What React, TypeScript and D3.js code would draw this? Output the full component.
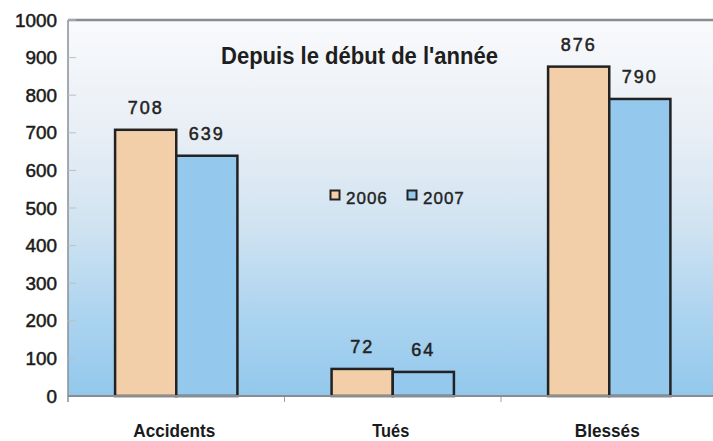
import React from "react";
import * as d3 from "d3";

const categories = ["Accidents", "Tués", "Blessés"];
const categoryLabelWidths = [82, 37, 65];
const seriesNames = ["2006", "2007"];
const values2006 = [708, 72, 876];
const values2007 = [639, 64, 790];
const yTicks = [0, 100, 200, 300, 400, 500, 600, 700, 800, 900, 1000];
const title = "Depuis le début de l'année";

const W = 713;
const H = 441;
const left = 68;
const top = 20;
const bottom = 396;
const right = 717.5;

const colors = ["#f2cea9", "#94c9ed"];
const FONT = "'Liberation Sans Narrow', 'Liberation Sans', Arial, sans-serif";

export default function App() {
  const x = d3.scaleBand<string>().domain(categories).range([left, right]).padding(0);
  const y = d3.scaleLinear().domain([0, 1000]).range([bottom, top]);
  const bw = x.bandwidth();
  const inner = d3
    .scaleBand<string>()
    .domain(seriesNames)
    .range([bw * 0.2175, bw * 0.7825])
    .padding(0);
  const series = [values2006, values2007];

  return (
    <svg
      width={W}
      height={H}
      style={{ position: "absolute", left: 0, top: 0, background: "#fff" }}
    >
      <defs>
        <linearGradient id="bg" x1="0" y1="0" x2="0" y2="1">
          <stop offset="0" stopColor="#f9fafc" />
          <stop offset="0.3" stopColor="#e8eef5" />
          <stop offset="0.55" stopColor="#d0e3f1" />
          <stop offset="0.78" stopColor="#add4f0" />
          <stop offset="1" stopColor="#92c8ec" />
        </linearGradient>
      </defs>
      <rect x={left} y={top} width={W - left} height={bottom - top} fill="url(#bg)" />
      <line x1={left} x2={W} y1={top} y2={top} stroke="#878d93" strokeWidth={2.5} />
      <line x1={left} x2={left} y1={top} y2={bottom + 6} stroke="#8a8f95" strokeWidth={1.5} />
      {yTicks.map((t) => (
        <g key={t}>
          <line x1={left} x2={left + 8} y1={y(t)} y2={y(t)} stroke="#b9bfc6" strokeWidth={1} />
          <text
            x={57}
            y={y(t) + 6.5}
            textAnchor="end"
            fontFamily={FONT}
            fontSize={18.5}
            fill="#1a1a1a"
            stroke="#1a1a1a"
            strokeWidth={0.5}
            textLength={String(t).length * 10.5}
            lengthAdjust="spacingAndGlyphs"
          >
            {t}
          </text>
        </g>
      ))}
      {categories.map((c) => (
        <line
          key={"ct" + c}
          x1={(x(c) as number) + bw}
          x2={(x(c) as number) + bw}
          y1={bottom}
          y2={bottom + 6}
          stroke="#9aa0a6"
          strokeWidth={1}
        />
      ))}
      {categories.map((c, i) =>
        seriesNames.map((s, j) => {
          const v = series[j][i];
          const bx = (x(c) as number) + (inner(s) as number);
          return (
            <g key={c + s}>
              <rect
                x={bx}
                y={y(v)}
                width={inner.bandwidth()}
                height={bottom - y(v)}
                fill={colors[j]}
                stroke="#222"
                strokeWidth={2.5}
              />
              <text
                x={bx + inner.bandwidth() / 2}
                y={y(v) - 16}
                textAnchor="middle"
                fontFamily="'Liberation Sans', Arial, sans-serif"
                fontSize={18}
                letterSpacing={2}
                fill="#222"
                stroke="#222"
                strokeWidth={0.5}
              >
                {v}
              </text>
            </g>
          );
        })
      )}
      <line x1={left} x2={W} y1={bottom} y2={bottom} stroke="#878d93" strokeWidth={2} />
      {categories.map((c, i) => (
        <text
          key={"cl" + c}
          x={(x(c) as number) + bw / 2 - 2}
          y={437}
          textAnchor="middle"
          fontFamily={FONT}
          fontWeight="bold"
          fontSize={17.5}
          fill="#1a1a1a"
          textLength={categoryLabelWidths[i]}
          lengthAdjust="spacingAndGlyphs"
        >
          {c}
        </text>
      ))}
      <text
        x={359.5}
        y={64}
        textAnchor="middle"
        fontFamily={FONT}
        fontWeight="bold"
        fontSize={23}
        fill="#1e1e1e"
        textLength={277}
        lengthAdjust="spacingAndGlyphs"
      >
        {title}
      </text>
      {seriesNames.map((s, j) => (
        <g key={"lg" + s} transform={`translate(${330 + j * 77},190)`}>
          <rect x={0.5} y={0.5} width={9} height={9} fill={colors[j]} stroke="#222" strokeWidth={2} />
          <text
            x={16}
            y={13.5}
            fontFamily="'Liberation Sans', Arial, sans-serif"
            fontSize={17}
            letterSpacing={1}
            fill="#222"
            stroke="#222"
            strokeWidth={0.4}
          >
            {s}
          </text>
        </g>
      ))}
    </svg>
  );
}
